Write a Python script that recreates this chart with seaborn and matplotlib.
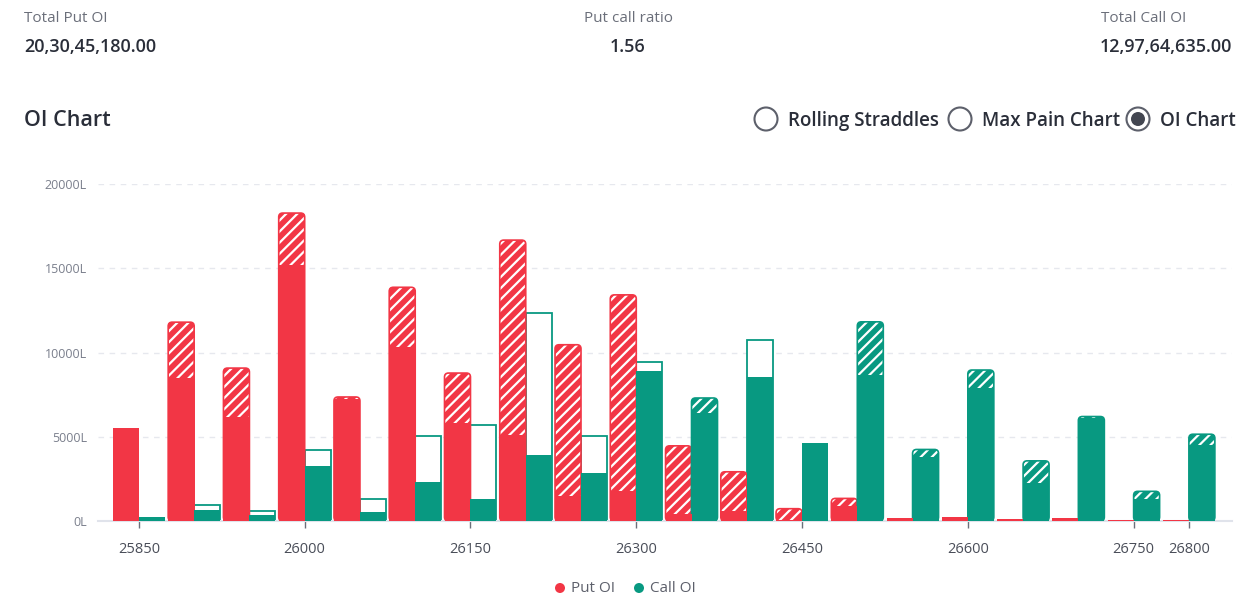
import numpy as np
import pandas as pd
import matplotlib
matplotlib.use('Agg')
import matplotlib.pyplot as plt
import seaborn as sns
from matplotlib.patches import Circle, FancyBboxPatch

# Option chain snapshot (values in lakhs)
strikes = [25850, 25900, 25950, 26000, 26050, 26100, 26150, 26200, 26250, 26300,
           26350, 26400, 26450, 26500, 26550, 26600, 26650, 26700, 26750, 26800]
put_oi = [5520, 11800, 9075, 18275, 7360, 13870, 8780, 16670, 10460, 13420,
          4460, 2920, 730, 1340, 160, 220, 100, 160, 80, 80]
put_prev = [5520, 8470, 6175, 15200, 7220, 10320, 5820, 5090, 1500, 1780,
            430, 570, 80, 910, 160, 220, 100, 160, 80, 80]
call_oi = [220, 670, 355, 3255, 555, 2310, 1285, 3890, 2840, 8900,
           7300, 8545, 4600, 11820, 4245, 8960, 3570, 6200, 1760, 5150]
call_prev = [220, 965, 610, 4220, 1285, 5070, 5725, 12315, 5070, 9450,
             6395, 10755, 4600, 8645, 3810, 7895, 2230, 6120, 1320, 4520]
label_strikes = [25850, 26000, 26150, 26300, 26450, 26600, 26750, 26800]
yticks = [0, 5000, 10000, 15000, 20000]

header = [("Total Put OI", "20,30,45,180.00"), ("Put call ratio", "1.56"), ("Total Call OI", "12,97,64,635.00")]
modes = ["Rolling Straddles", "Max Pain Chart", "OI Chart"]

RED = '#F23645'
GREEN = '#089981'
sides = ['Put OI', 'Call OI']
colors = {'Put OI': RED, 'Call OI': GREEN}

df = pd.DataFrame({
    'strike': strikes * 2,
    'side': ['Put OI'] * len(strikes) + ['Call OI'] * len(strikes),
    'oi': put_oi + call_oi,
    'prev': put_prev + call_prev,
})
df['upper'] = df[['oi', 'prev']].max(axis=1)
df['lower'] = df[['oi', 'prev']].min(axis=1)

sns.set_theme(style='white')
plt.rcParams['font.family'] = ['Open Sans', 'DejaVu Sans']
plt.rcParams['hatch.linewidth'] = 1.6

fig = plt.figure(figsize=(12.55, 6), dpi=100)
ax = fig.add_axes([98 / 1255, 1 - 521 / 600, 1134 / 1255, 337 / 600])
ax.set_xlim(25813, 26839)
ax.set_ylim(0, 20000)

# data units per pixel, used to keep the rounded tops circular
ux = (26839 - 25813) / 1134.0
uy = 20000 / 337.0

# upper layer: hatched increase or hollow decrease
sns.barplot(data=df, x='strike', y='upper', hue='side', hue_order=sides, palette=colors,
            native_scale=True, width=0.94, saturation=1, legend=False, linewidth=0, ax=ax)
lookup = df.set_index(['side', 'strike'])
for side, cont in zip(sides, list(ax.containers)):
    for bar in cont:
        s = int(round((bar.get_x() + bar.get_width() / 2) / 50.0) * 50)
        row = lookup.loc[(side, s)]
        if row['oi'] > row['prev']:
            x0, w, h = bar.get_x(), bar.get_width(), bar.get_height()
            bar.set_visible(False)
            r = min(4 * ux, h / uy * ux / 2)
            ax.add_patch(FancyBboxPatch((x0, 0), w, h, boxstyle=f"round,pad=0,rounding_size={r}",
                                        mutation_aspect=uy / ux, facecolor=colors[side],
                                        edgecolor='white', linewidth=0, hatch='///', zorder=2))
            ax.add_patch(FancyBboxPatch((x0, 0), w, h, boxstyle=f"round,pad=0,rounding_size={r}",
                                        mutation_aspect=uy / ux, facecolor='none',
                                        edgecolor=colors[side], linewidth=1.2, zorder=2))
        elif row['oi'] < row['prev']:
            bar.set_facecolor('white')
            bar.set_edgecolor(colors[side])
            bar.set_linewidth(1.3)

# solid base layer
sns.barplot(data=df, x='strike', y='lower', hue='side', hue_order=sides, palette=colors,
            native_scale=True, width=0.94, saturation=1, legend=False, linewidth=0, ax=ax)
for cont in ax.containers[2:]:
    for bar in cont:
        bar.set_zorder(3)

ax.set_xlim(25813, 26839)
ax.set_ylim(0, 20000)
ax.set_yticks(yticks)
ax.set_yticklabels([f"{v}L" for v in yticks])
ax.set_xticks(label_strikes)
ax.set_xticklabels([str(s) for s in label_strikes])
ax.set_xlabel('')
ax.set_ylabel('')
ax.yaxis.grid(True, color='#e6e8ee', linestyle=(0, (4, 4)), linewidth=1)
ax.set_axisbelow(True)
for sp in ['top', 'right', 'left']:
    ax.spines[sp].set_visible(False)
ax.spines['bottom'].set_color('#e0e3eb')
ax.spines['bottom'].set_linewidth(1.5)
ax.spines['bottom'].set_zorder(1)
ax.tick_params(axis='y', length=0, labelsize=9, labelcolor='#7a7f8c', pad=8)
ax.tick_params(axis='x', length=5, width=1, color='#6b6f7a', bottom=True,
               labelsize=10.5, labelcolor='#4a4e59', pad=10)

# overlay for header, radio buttons and legend (pixel coords)
ov = fig.add_axes([0, 0, 1, 1])
ov.set_xlim(0, 1255)
ov.set_ylim(600, 0)
ov.axis('off')
ov.patch.set_alpha(0)

ov.text(24, 18, header[0][0], fontsize=11, color='#6b6f7a', va='center', ha='left')
ov.text(24, 47, header[0][1], fontsize=13, color='#2a2e39', va='center', ha='left', fontweight='semibold')
ov.text(628, 18, header[1][0], fontsize=11, color='#6b6f7a', va='center', ha='center')
ov.text(628, 47, header[1][1], fontsize=13, color='#2a2e39', va='center', ha='center', fontweight='semibold')
ov.text(1101, 18, header[2][0], fontsize=11, color='#6b6f7a', va='center', ha='left')
ov.text(1232, 47, header[2][1], fontsize=13, color='#2a2e39', va='center', ha='right', fontweight='semibold')

ov.text(24, 121, "OI Chart", fontsize=15.5, color='#2a2e39', va='center', ha='left', fontweight='semibold')
radio_x = [766, 960, 1138]
for i, (cx, lab) in enumerate(zip(radio_x, modes)):
    ov.add_patch(Circle((cx, 119), 11.5, facecolor='white', edgecolor='#5d606b', linewidth=1.5))
    if i == 2:
        ov.add_patch(Circle((cx, 119), 7, facecolor='#434651', edgecolor='none'))
    ov.text(cx + 22, 121, lab, fontsize=13.5, color='#2a2e39', va='center', ha='left', fontweight='semibold')

for cx, side in [(560, 'Put OI'), (639, 'Call OI')]:
    ov.add_patch(Circle((cx, 588), 5, facecolor=colors[side], edgecolor='none'))
    ov.text(cx + 11, 588, side, fontsize=11, color='#5d606b', va='center', ha='left')

fig.savefig('out.png', dpi=100)
